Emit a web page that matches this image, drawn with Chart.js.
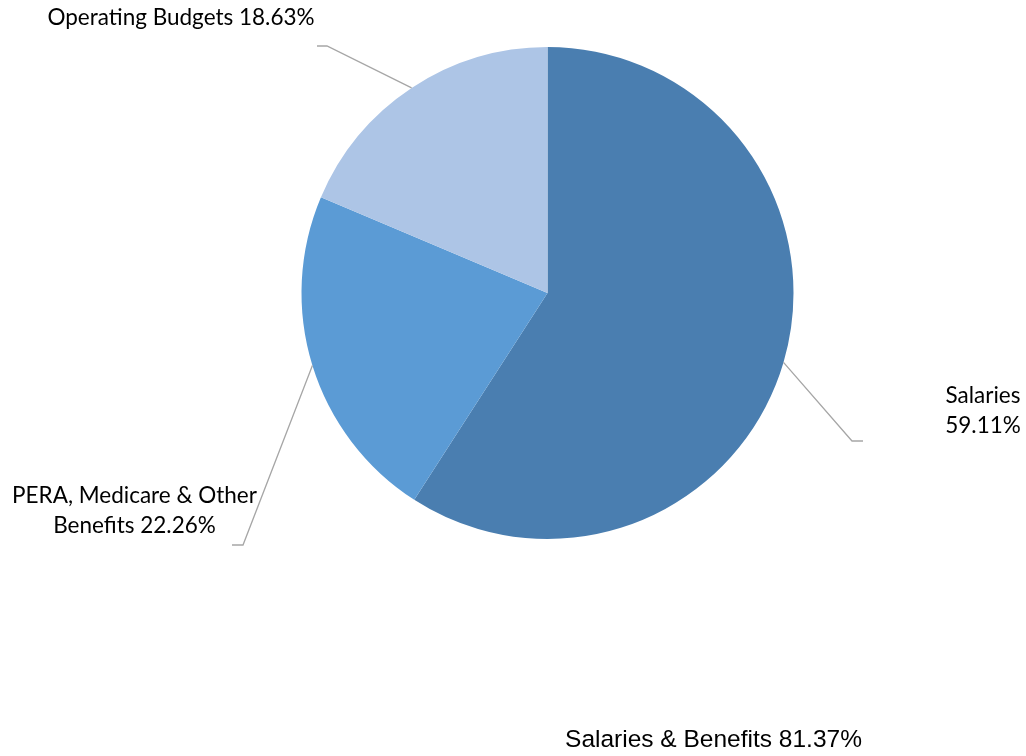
<!DOCTYPE html>
<html>
<head>
<meta charset="utf-8">
<title>Budget Breakdown</title>
<script src="https://cdn.jsdelivr.net/npm/chart.js@4/dist/chart.umd.min.js"></script>
<style>
    html, body { margin: 0; padding: 0; background: #ffffff; }
    #wrap { position: relative; width: 1026px; height: 756px; }
</style>
</head>
<body>
<div id="wrap"><canvas id="budgetChart"></canvas></div>
<script>
// Budget shares (percent)
const categories = ["Salaries", "PERA, Medicare & Other Benefits", "Operating Budgets"];
const shares = [59.11, 22.26, 18.63];
const sliceColors = ["#4A7EB0", "#5B9BD5", "#ADC5E6"];

// Where each callout sits: elbow of the leader line, its end, text centre/baseline and wrap width
const callouts = [
    { elbow: [852, 441], end: [863, 441], textX: 983, textY: 403, wrap: 90 },
    { elbow: [243, 545], end: [232, 545], textX: 134.5, textY: 503, wrap: 270 },
    { elbow: [327, 46], end: [317, 46], textX: 181, textY: 25, wrap: 400 }
];

function wrapWords(ctx, text, maxWidth) {
    const words = text.split(" ");
    const lines = [];
    let line = "";
    words.forEach(w => {
        const test = line ? line + " " + w : w;
        if (line && ctx.measureText(test).width > maxWidth) {
            lines.push(line);
            line = w;
        } else {
            line = test;
        }
    });
    if (line) lines.push(line);
    return lines;
}

// Leader lines + callout text, plus the combined salaries & benefits note
const calloutPlugin = {
    id: "callouts",
    afterDatasetsDraw(chart) {
        const ctx = chart.ctx;
        const meta = chart.getDatasetMeta(0);
        ctx.save();
        meta.data.forEach((arc, i) => {
            const c = callouts[i];
            const mid = (arc.startAngle + arc.endAngle) / 2;
            const ex = arc.x + Math.cos(mid) * arc.outerRadius;
            const ey = arc.y + Math.sin(mid) * arc.outerRadius;

            ctx.beginPath();
            ctx.strokeStyle = "#A6A6A6";
            ctx.lineWidth = 1.3;
            ctx.moveTo(ex, ey);
            ctx.lineTo(c.elbow[0], c.elbow[1]);
            ctx.lineTo(c.end[0], c.end[1]);
            ctx.stroke();

            ctx.font = "22.5px Lato, 'Open Sans', sans-serif";
            ctx.fillStyle = "#000000";
            ctx.textAlign = "center";
            ctx.textBaseline = "alphabetic";
            const text = categories[i] + " " + shares[i].toFixed(2) + "%";
            const lines = wrapWords(ctx, text, c.wrap);
            lines.forEach((ln, k) => ctx.fillText(ln, c.textX, c.textY + k * 29.5));
        });

        const combined = shares[0] + shares[1];
        ctx.font = "24.5px 'Liberation Sans', Arial, sans-serif";
        ctx.textAlign = "center";
        ctx.fillStyle = "#000000";
        ctx.fillText("Salaries & Benefits " + combined.toFixed(2) + "%", 713.5, 747);
        ctx.restore();
    }
};

new Chart(document.getElementById("budgetChart"), {
    type: "pie",
    data: {
        labels: categories,
        datasets: [{
            data: shares,
            backgroundColor: sliceColors,
            borderWidth: 0,
            hoverOffset: 0
        }]
    },
    options: {
        responsive: true,
        maintainAspectRatio: false,
        animation: false,
        events: [],
        layout: {
            padding: { left: 301.5, right: 232.5, top: 47, bottom: 217 }
        },
        plugins: {
            legend: { display: false },
            tooltip: { enabled: false },
            title: { display: false }
        }
    },
    plugins: [calloutPlugin]
});
</script>
</body>
</html>
